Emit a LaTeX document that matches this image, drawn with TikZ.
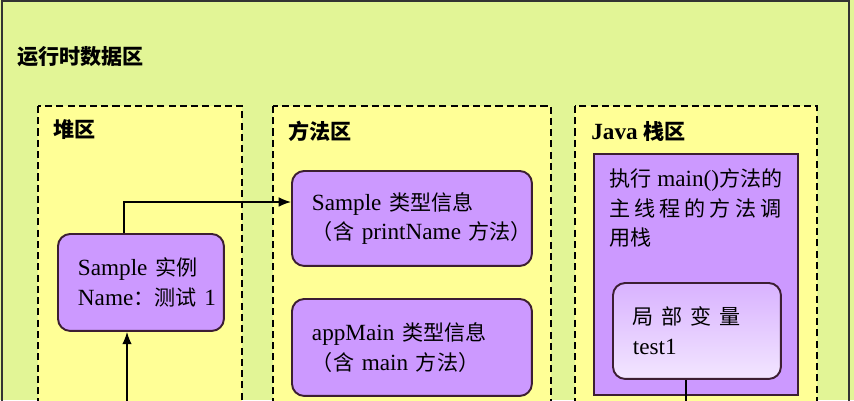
\documentclass[tikz,border=0pt]{standalone}
\usepackage{fontspec}
\setmainfont{Liberation Serif}[Scale=1.1]
\newfontfamily\cjkfont{Noto Sans CJK SC}
\usepackage{tikz}
\usetikzlibrary{arrows.meta,calc,positioning}
\definecolor{bggreen}{RGB}{226,245,150}
\definecolor{areayellow}{RGB}{255,255,150}
\definecolor{boxpurple}{RGB}{204,153,255}
\definecolor{edge}{RGB}{60,30,50}
\newcommand{\zh}[1]{{\cjkfont #1}}

\begin{document}
\begin{tikzpicture}[x=0.02cm,y=-0.02cm,
    area/.style={draw=black,line width=1.1pt,dash pattern=on 4pt off 2.4pt,fill=areayellow},
    tag/.style={anchor=west,inner sep=0pt,font=\bfseries},
    blob/.style={draw=edge,line width=1.1pt,fill=boxpurple,rounded corners=7pt,anchor=north west,align=left,inner xsep=0.4cm,inner ysep=0pt},
    link/.style={-{Latex[length=7pt,width=5.5pt]},line width=0.8pt}]
  \fontsize{12}{17}\selectfont
  \useasboundingbox (0,0) rectangle (854,400);
  \clip (0,0) rectangle (854,400);
  \fill[bggreen] (0,0) rectangle (854,400);
  \draw[line width=1pt,draw=black!80] (2,1) rectangle (849,460);
  \node[tag] (title) at (17,57) {\zh{运行时数据区}};
  % the three areas
  \draw[area] (38,106) rectangle (242,460);
  \draw[area] (273,106) rectangle (551,460);
  \draw[area] (575,106) rectangle (817,460);
  \node[tag] (heaptag) at (53,130) {\zh{堆区}};
  \node[tag] (methtag) at (288,131) {\zh{方法区}};
  \node[tag] (stacktag) at (591,131) {Java~\zh{栈区}};
  % heap
  \node[blob,minimum width=3.32cm,minimum height=1.94cm,text width=2.52cm] (inst) at (57,233)
    {\mbox{Sample \zh{实例}}\\\mbox{Name\zh{：测试} 1}};
  % method area
  \node[blob,minimum width=4.8cm,minimum height=1.9cm,text width=4cm] (sinfo) at (291,170)
    {\mbox{Sample \zh{类型信息}}\\\mbox{\zh{（含} printName \zh{方法）}}};
  \node[blob,minimum width=4.8cm,minimum height=1.94cm,text width=4cm] (minfo) at (291,298)
    {\mbox{appMain \zh{类型信息}}\\\mbox{\zh{（含} main \zh{方法）}}};
  % java stack
  \node[draw=edge,line width=1.1pt,fill=boxpurple,anchor=north west,minimum width=4.08cm,minimum height=4.82cm,inner sep=0pt] (frame) at (593,153) {};
  \node[anchor=north west,inner sep=0pt,align=left] (frametext) at (609,168)
    {\mbox{\zh{执行} main()\zh{方法的}}\\\makebox[3.44cm][s]{\zh{主 线 程 的 方 法 调}}\\\zh{用栈}};
  \node[blob,top color=boxpurple!75!white,bottom color=boxpurple!25!white,minimum width=3.36cm,minimum height=1.92cm,text width=2.56cm] (lvar) at (612,282)
    {\makebox[2.52cm][s]{\zh{局 部 变 量}}\\test1};
  % references
  \coordinate (up) at (124,202);
  \coordinate (tap) at (686,0);
  \coordinate (low) at (127,440);
  \draw[link] (inst.north -| up) |- (sinfo.west |- up);
  \draw[link] (lvar.south -| tap) |- (low) -- (inst.south -| low);
\end{tikzpicture}
\end{document}
